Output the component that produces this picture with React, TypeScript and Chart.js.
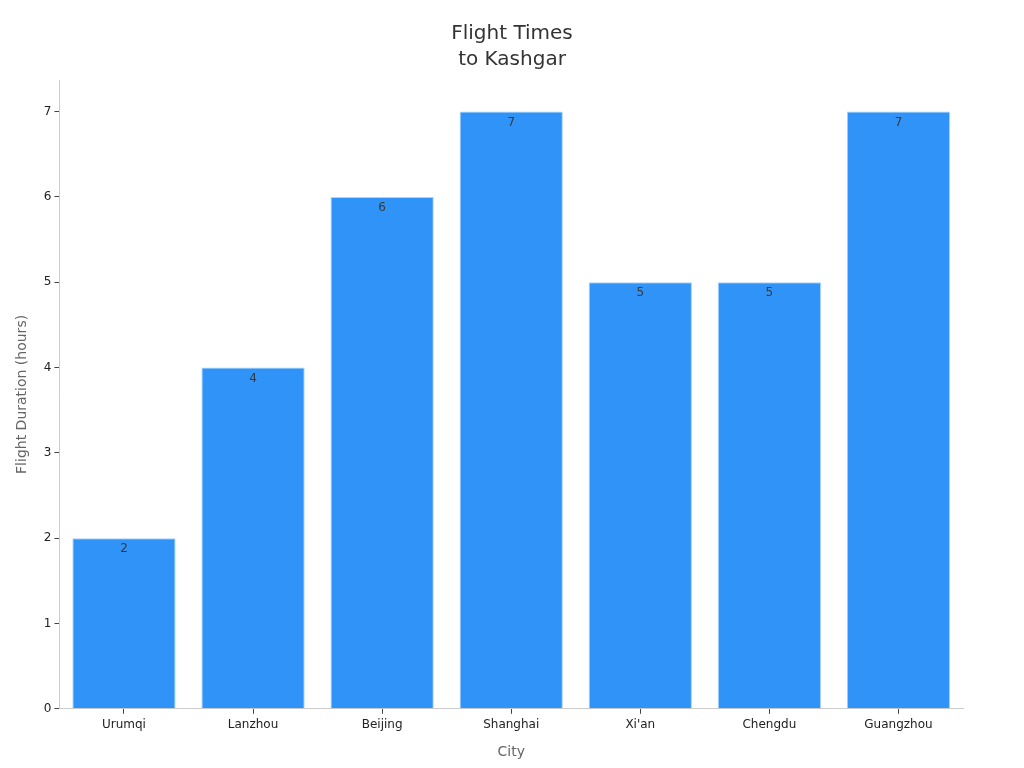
import React, { useEffect, useRef } from "react";
import { Chart, registerables } from "chart.js";

Chart.register(...registerables);

const cities = ["Urumqi", "Lanzhou", "Beijing", "Shanghai", "Xi'an", "Chengdu", "Guangzhou"];
const hours = [2, 4, 6, 7, 5, 5, 7];
const titleLines = ["Flight Times", "to Kashgar"];

const FONT = "'DejaVu Sans', sans-serif";

const barLabels = {
  id: "barLabels",
  afterDatasetsDraw(chart: any) {
    const ctx = chart.ctx;
    const meta = chart.getDatasetMeta(0);
    ctx.save();
    ctx.fillStyle = "#3a3a3a";
    ctx.font = `12px ${FONT}`;
    ctx.textAlign = "center";
    ctx.textBaseline = "top";
    meta.data.forEach((bar: any, i: number) => {
      ctx.fillText(String(hours[i]), bar.x, bar.y + 5);
    });
    ctx.restore();
  },
};

const centeredTitle = {
  id: "centeredTitle",
  afterDraw(chart: any) {
    const ctx = chart.ctx;
    ctx.save();
    ctx.fillStyle = "#333333";
    ctx.font = `20px ${FONT}`;
    ctx.textAlign = "center";
    ctx.textBaseline = "middle";
    titleLines.forEach((line, i) => {
      ctx.fillText(line, chart.width / 2, 34 + i * 26);
    });
    ctx.restore();
  },
};

export default function App() {
  const ref = useRef<HTMLCanvasElement>(null);
  useEffect(() => {
    if (!ref.current) return;
    const chart = new Chart(ref.current, {
      type: "bar",
      data: {
        labels: cities,
        datasets: [
          {
            data: hours,
            backgroundColor: "#2f93f8",
            borderColor: "#a9d3fb",
            borderWidth: 1,
            barPercentage: 0.8,
            categoryPercentage: 1,
          },
        ],
      },
      options: {
        animation: false,
        responsive: false,
        devicePixelRatio: 1,
        layout: { padding: { left: 14, right: 61, top: 80, bottom: 7 } },
        plugins: {
          legend: { display: false },
          tooltip: { enabled: false },
          title: { display: false },
        },
        scales: {
          x: {
            grid: { display: true, offset: false, drawOnChartArea: false, drawTicks: true, tickLength: 5, color: "#444444" },
            border: { display: true, color: "#cccccc" },
            ticks: { color: "#222222", font: { family: FONT, size: 12 }, padding: 4 },
            title: {
              display: true,
              text: "City",
              color: "#666666",
              font: { family: FONT, size: 14 },
              padding: { top: 8, bottom: 0 },
            },
          },
          y: {
            min: 0,
            max: 7.37,
            afterBuildTicks: (scale: any) => {
              scale.ticks = scale.ticks.filter((t: any) => Number.isInteger(t.value));
            },
            ticks: { stepSize: 1, color: "#222222", font: { family: FONT, size: 12 }, padding: 3 },
            grid: { display: true, drawOnChartArea: false, drawTicks: true, tickLength: 5, color: "#444444" },
            border: { display: true, color: "#cccccc" },
            title: {
              display: true,
              text: "Flight Duration (hours)",
              color: "#666666",
              font: { family: FONT, size: 14 },
              padding: { top: 0, bottom: 10 },
            },
          },
        },
      },
      plugins: [barLabels, centeredTitle],
    });
    return () => chart.destroy();
  }, []);
  return (
    <div style={{ position: "absolute", left: 0, top: 0, width: 1024, height: 768 }}>
      <canvas ref={ref} width={1024} height={768} style={{ width: 1024, height: 768 }} />
    </div>
  );
}
